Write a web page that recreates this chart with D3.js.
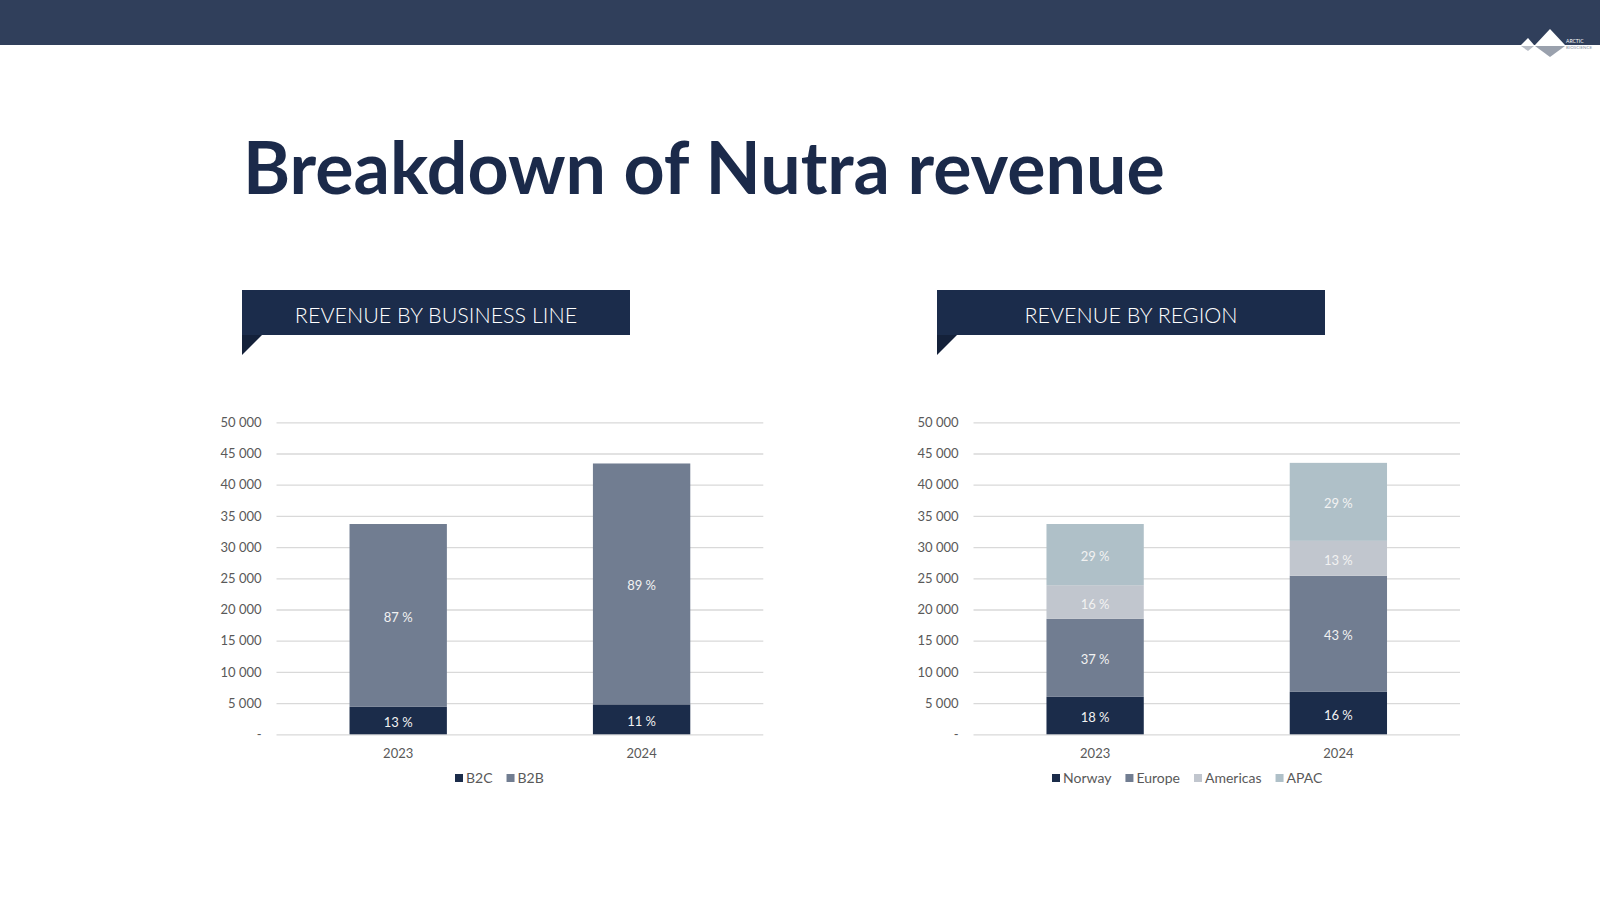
<!DOCTYPE html>
<html>
<head>
<meta charset="utf-8">
<script src="https://cdn.jsdelivr.net/npm/d3@7"></script>
<style>
  html, body { margin: 0; padding: 0; background: #ffffff; }
  svg { display: block; font-family: Lato, "Open Sans", sans-serif; }
</style>
</head>
<body>
<svg id="slide" width="1600" height="900"></svg>
<script>
// Chart data (values in thousands NOK)
const years = ['2023', '2024'];
const tickValues = [0, 5000, 10000, 15000, 20000, 25000, 30000, 35000, 40000, 45000, 50000];

// Revenue by business line
const lineNames = ['B2C', 'B2B'];
const b2cValues = [4400, 4800];
const b2bValues = [29300, 38600];

// Revenue by region
const regionNames = ['Norway', 'Europe', 'Americas', 'APAC'];
const norwayValues = [6000, 6800];
const europeValues = [12500, 18600];
const americasValues = [5400, 5600];
const apacValues = [9800, 12500];

const svg = d3.select('#slide');

drawHeader();
drawChart({
    left: 276.5, right: 763.3,
    names: lineNames,
    series: [b2cValues, b2bValues],
    colors: ['#1b2c4a', '#717d91'],
    legendX: 455
});
drawChart({
    left: 973.5, right: 1460,
    names: regionNames,
    series: [norwayValues, europeValues, americasValues, apacValues],
    colors: ['#1b2c4a', '#717d91', '#c1c6ce', '#afc0c8'],
    legendX: 1052
});

function drawHeader() {
    // top band
    svg.append('rect')
        .attr('x', 0).attr('y', 0)
        .attr('width', 1600).attr('height', 45)
        .attr('fill', '#303f5b');

    // logo
    const logo = svg.append('g');
    logo.append('polygon').attr('points', '1535,45 1550,29 1565,45').attr('fill', '#ffffff');
    logo.append('polygon').attr('points', '1521,45 1528,38 1534,45').attr('fill', '#ffffff');
    logo.append('polygon').attr('points', '1535,46 1550,57 1565,46').attr('fill', '#9aa1ad');
    logo.append('polygon').attr('points', '1521,46 1528,51 1534,46').attr('fill', '#b9bec7');
    logo.append('text').attr('x', 1566).attr('y', 43).attr('font-size', 5)
        .attr('fill', '#ffffff').text('ARCTIC');
    logo.append('text').attr('x', 1566).attr('y', 49).attr('font-size', 4.5)
        .attr('fill', '#8a93a3').text('BIOSCIENCE');

    // title, fitted to the slide's title width
    const title = svg.append('text')
        .attr('x', 243).attr('y', 194)
        .attr('font-size', 70)
        .attr('font-weight', 'bold')
        .attr('fill', '#1b2a4a')
        .text('Breakdown of Nutra revenue');
    const w = title.node().getComputedTextLength();
    title.attr('font-size', 70 * 922 / w);

    // section banners
    drawBanner(242, 630, 'REVENUE BY BUSINESS LINE');
    drawBanner(937, 1325, 'REVENUE BY REGION');
}

function drawBanner(x0, x1, label) {
    svg.append('rect')
        .attr('x', x0).attr('y', 290)
        .attr('width', x1 - x0).attr('height', 45)
        .attr('fill', '#1b2c4b');
    svg.append('polygon')
        .attr('points', `${x0},335 ${x0 + 20},335 ${x0},355`)
        .attr('fill', '#14213a');
    svg.append('text')
        .attr('x', (x0 + x1) / 2).attr('y', 323)
        .attr('text-anchor', 'middle')
        .attr('font-size', 21.5)
        .attr('font-weight', 300)
        .attr('fill', '#ffffff')
        .text(label);
}

function drawChart(cfg) {
    const top = 422.3;
    const bottom = 734.3;
    const width = cfg.right - cfg.left;

    const x = d3.scaleBand()
        .domain(years)
        .range([cfg.left, cfg.right])
        .paddingInner(0.6)
        .paddingOuter(0.3);

    const y = d3.scaleLinear()
        .domain([0, 50000])
        .range([bottom, top]);

    const fmt = d => d === 0 ? '-' : d3.format(',')(d).replace(/,/g, ' ');

    // Y axis with gridlines
    const yAxis = svg.append('g')
        .attr('transform', `translate(${cfg.left},0)`)
        .call(d3.axisLeft(y).tickValues(tickValues).tickFormat(fmt)
            .tickSizeInner(-width).tickSizeOuter(0).tickPadding(15));
    yAxis.select('.domain').remove();
    yAxis.selectAll('.tick line').attr('stroke', '#d9d9d9').attr('stroke-width', 1.3);
    yAxis.selectAll('.tick text')
        .attr('fill', '#595959')
        .attr('font-size', 13)
        .attr('font-family', 'Lato, sans-serif');

    // stacked segments
    const rows = years.map((yr, i) => {
        const row = { year: yr };
        cfg.names.forEach((n, k) => { row[n] = cfg.series[k][i]; });
        return row;
    });
    const totals = years.map((yr, i) => d3.sum(cfg.series, s => s[i]));
    const stacked = d3.stack().keys(cfg.names)(rows);

    const layers = svg.append('g').selectAll('g')
        .data(stacked)
        .enter()
        .append('g')
        .attr('fill', (d, k) => cfg.colors[k]);

    layers.selectAll('rect')
        .data(d => d)
        .enter()
        .append('rect')
        .attr('x', d => x(d.data.year))
        .attr('y', d => y(d[1]))
        .attr('width', x.bandwidth())
        .attr('height', d => y(d[0]) - y(d[1]));

    // percentage labels
    layers.selectAll('text')
        .data(d => d)
        .enter()
        .append('text')
        .attr('x', d => x(d.data.year) + x.bandwidth() / 2)
        .attr('y', d => y((d[0] + d[1]) / 2))
        .attr('dy', '0.5em')
        .attr('text-anchor', 'middle')
        .attr('fill', '#f2f2f2')
        .attr('font-size', 13)
        .text((d, i) => Math.round((d[1] - d[0]) / totals[i] * 100) + ' %');

    // X axis labels
    const xAxis = svg.append('g')
        .attr('transform', `translate(0,${bottom})`)
        .call(d3.axisBottom(x).tickSize(0).tickPadding(14));
    xAxis.select('.domain').remove();
    xAxis.selectAll('.tick text')
        .attr('fill', '#595959')
        .attr('font-size', 13)
        .attr('font-family', 'Lato, sans-serif');

    // legend
    const legend = svg.append('g').attr('transform', `translate(${cfg.legendX},778)`);
    let offset = 0;
    cfg.names.forEach((n, k) => {
        const item = legend.append('g').attr('transform', `translate(${offset},0)`);
        item.append('rect')
            .attr('x', 0).attr('y', -4)
            .attr('width', 8).attr('height', 8)
            .attr('fill', cfg.colors[k]);
        const t = item.append('text')
            .attr('x', 11).attr('y', 0)
            .attr('dy', '0.35em')
            .attr('fill', '#595959')
            .attr('font-size', 14)
            .text(n);
        offset += 11 + t.node().getComputedTextLength() + 14;
    });
}
</script>
</body>
</html>
